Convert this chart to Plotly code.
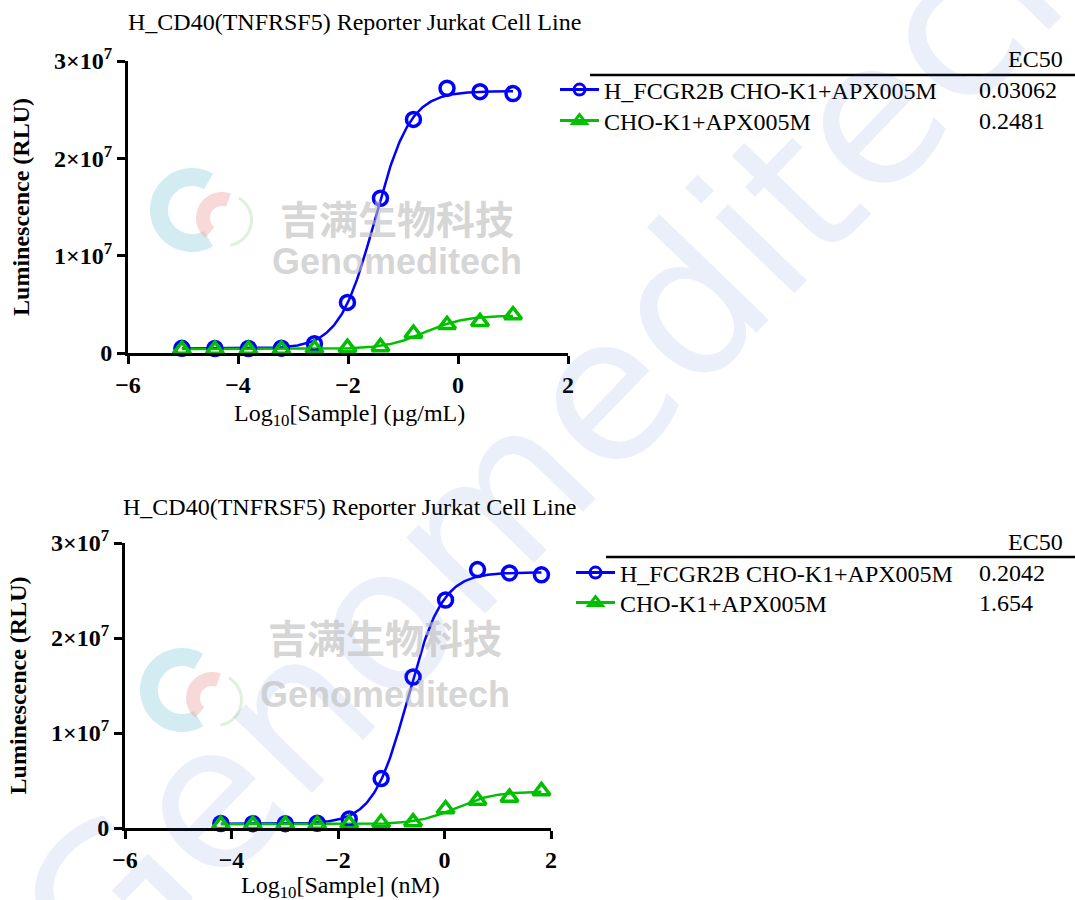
import numpy as np
import plotly.graph_objects as go

# ---------------- data ----------------
x_ugml = [-5.02, -4.42, -3.81, -3.21, -2.61, -2.01, -1.41, -0.81, -0.20, 0.40, 1.00]
x_nm = [-4.20, -3.60, -2.99, -2.39, -1.79, -1.19, -0.59, 0.02, 0.62, 1.22, 1.82]
y_fcgr2b = [0.48e6, 0.46e6, 0.46e6, 0.50e6, 0.96e6, 5.2e6, 15.9e6, 24.0e6, 27.2e6, 26.85e6, 26.65e6]
y_chok1 = [0.35e6, 0.35e6, 0.35e6, 0.36e6, 0.45e6, 0.55e6, 0.62e6, 2.0e6, 2.9e6, 3.2e6, 3.9e6]

series_names = ["H_FCGR2B CHO-K1+APX005M", "CHO-K1+APX005M"]
ec50_ugml = [0.03062, 0.2481]
ec50_nm = [0.2042, 1.654]
ec50_text_top = ["0.03062", "0.2481"]
ec50_text_bot = ["0.2042", "1.654"]
fit_bottom = [0.45e6, 0.40e6]
fit_top = [26.9e6, 3.85e6]
fit_hill = [1.35, 1.2]

x_ticks = [-6, -4, -2, 0, 2]
y_ticks = [0, 1e7, 2e7, 3e7]
y_ticktext = ["0", "1×10<sup>7</sup>", "2×10<sup>7</sup>", "3×10<sup>7</sup>"]

title_text = "H_CD40(TNFRSF5) Reporter Jurkat Cell Line"
xtitle_top = "Log<sub>10</sub>[Sample] (µg/mL)"
xtitle_bot = "Log<sub>10</sub>[Sample] (nM)"
ytitle = "Luminescence (RLU)"

colors = ["#0000ff", "#00c000"]
symbols = ["circle-open", "triangle-up-open"]
msize = [14, 15]

W, H = 1075, 900
SERIF = "Liberation Serif"


def px(x):
    return x / W


def py(y):
    return 1 - y / H


def four_pl(x, bottom, top, ec50, hill):
    return bottom + (top - bottom) / (1 + 10 ** ((np.log10(ec50) - x) * hill))


fig = go.Figure()

panels = [
    dict(xs=x_ugml, ec=ec50_ugml, xa="x", ya="y", legends=["legend", "legend2"]),
    dict(xs=x_nm, ec=ec50_nm, xa="x2", ya="y2", legends=["legend3", "legend4"]),
]
ys_all = [y_fcgr2b, y_chok1]

for p in panels:
    for i in range(2):
        xs = np.array(p["xs"])
        xf = np.linspace(xs.min(), xs.max(), 300)
        yf = four_pl(xf, fit_bottom[i], fit_top[i], p["ec"][i], fit_hill[i])
        fig.add_trace(go.Scatter(x=xf, y=yf, mode="lines", xaxis=p["xa"], yaxis=p["ya"],
                                 line=dict(color=colors[i], width=2.5), showlegend=False,
                                 hoverinfo="skip"))
    for i in range(2):
        fig.add_trace(go.Scatter(x=p["xs"], y=ys_all[i], mode="markers", xaxis=p["xa"], yaxis=p["ya"],
                                 marker=dict(symbol=symbols[i], size=msize[i], color=colors[i],
                                             line=dict(width=3.5, color=colors[i])),
                                 showlegend=False, cliponaxis=False))
    for i in range(2):
        fig.add_trace(go.Scatter(x=[None], y=[None], mode="lines+markers", xaxis=p["xa"], yaxis=p["ya"],
                                 name=series_names[i], legend=p["legends"][i],
                                 line=dict(color=colors[i], width=3),
                                 marker=dict(symbol=symbols[i], size=msize[i] - 3, color=colors[i],
                                             line=dict(width=3, color=colors[i]))))

axis_common = dict(showgrid=False, zeroline=False, showline=True, linecolor="black", linewidth=3,
                   ticks="outside", ticklen=8, tickwidth=3, tickcolor="black", automargin=False,
                   tickfont=dict(family=SERIF, size=24, weight="bold", color="black"))

leg_common = dict(xanchor="left", yanchor="middle", bgcolor="rgba(0,0,0,0)", borderwidth=0,
                  font=dict(family=SERIF, size=24, color="black"), itemwidth=39)

fig.update_layout(
    width=W, height=H, margin=dict(l=0, r=0, t=0, b=0, autoexpand=False),
    paper_bgcolor="white", plot_bgcolor="rgba(0,0,0,0)",
    xaxis=dict(domain=[px(128), px(568)], anchor="y", range=[-6, 2], tickvals=x_ticks,
               **axis_common),
    yaxis=dict(domain=[py(353), py(61)], anchor="x", range=[0, 3e7], tickvals=y_ticks, ticktext=y_ticktext,
               title=dict(text=ytitle, font=dict(family=SERIF, size=24, weight="bold", color="black"), standoff=18),
               **axis_common),
    xaxis2=dict(domain=[px(125), px(551)], anchor="y2", range=[-6, 2], tickvals=x_ticks,
                **axis_common),
    yaxis2=dict(domain=[py(828), py(543)], anchor="x2", range=[0, 3e7], tickvals=y_ticks, ticktext=y_ticktext,
                title=dict(text=ytitle, font=dict(family=SERIF, size=24, weight="bold", color="black"), standoff=18),
                **axis_common),
    legend=dict(x=px(555), y=py(90), **leg_common),
    legend2=dict(x=px(555), y=py(121), **leg_common),
    legend3=dict(x=px(571), y=py(573), **leg_common),
    legend4=dict(x=px(571), y=py(603), **leg_common),
)

ann = []
# watermark (large diagonal)
ann.append(dict(text="Genomeditech", x=px(565), y=py(430), xref="paper", yref="paper", showarrow=False,
                textangle=-46, font=dict(family="DejaVu Sans", size=200, color="rgba(60,100,200,0.10)")))
# titles
ann.append(dict(text=title_text, x=px(126), y=py(22), xref="paper", yref="paper", xanchor="left",
                yanchor="middle", showarrow=False, font=dict(family=SERIF, size=24, color="black")))
ann.append(dict(text=title_text, x=px(121), y=py(507), xref="paper", yref="paper", xanchor="left",
                yanchor="middle", showarrow=False, font=dict(family=SERIF, size=24, color="black")))
# x-axis titles
ann.append(dict(text=xtitle_top, x=px(349), y=py(415), xref="paper", yref="paper", xanchor="center",
                yanchor="middle", showarrow=False, font=dict(family=SERIF, size=24, color="black")))
ann.append(dict(text=xtitle_bot, x=px(340), y=py(887), xref="paper", yref="paper", xanchor="center",
                yanchor="middle", showarrow=False, font=dict(family=SERIF, size=24, color="black")))
# EC50 table
for hy, rows, texts in [(59, (90, 121), ec50_text_top), (542, (573, 603), ec50_text_bot)]:
    ann.append(dict(text="EC50", x=px(1065), y=py(hy), xref="paper", yref="paper", xanchor="right",
                    yanchor="middle", showarrow=False, font=dict(family=SERIF, size=24, color="black")))
    for ry, t in zip(rows, texts):
        ann.append(dict(text=t, x=px(977), y=py(ry), xref="paper", yref="paper", xanchor="left",
                        yanchor="middle", showarrow=False, font=dict(family=SERIF, size=24, color="black")))
# small watermarks
for cx, cy1, cy2 in [(397, 187, 239), (385, 666, 717)]:
    ann.append(dict(text="吉满生物科技", x=px(cx), y=py(cy1), xref="paper", yref="paper", showarrow=False,
                    font=dict(family="Noto Sans CJK SC", size=39, weight="bold", color="rgba(190,190,190,0.65)")))
    ann.append(dict(text="Genomeditech", x=px(cx), y=py(cy2), xref="paper", yref="paper", showarrow=False,
                    font=dict(family="Liberation Sans", size=36, weight="bold", color="rgba(190,190,190,0.65)")))
fig.update_layout(annotations=ann)


def path_from_pixels(pts):
    return "M " + " L ".join(f"{px(a):.5f},{py(b):.5f}" for a, b in pts) + " Z"


def ring_segment(cx, cy, r_out, r_in, a0, a1, n=60):
    t = np.radians(np.linspace(a0, a1, n))
    outer = [(cx + r_out * np.cos(a), cy - r_out * np.sin(a)) for a in t]
    inner = [(cx + r_in * np.cos(a), cy - r_in * np.sin(a)) for a in t[::-1]]
    return path_from_pixels(outer + inner)


shapes = [
    dict(type="line", xref="paper", yref="paper", x0=px(590), x1=1, y0=py(75), y1=py(75),
         line=dict(color="black", width=2.5)),
    dict(type="line", xref="paper", yref="paper", x0=px(606), x1=1, y0=py(557), y1=py(557),
         line=dict(color="black", width=2.5)),
]
# logos (faint)
for (lx, ly) in [(192, 210), (182, 690)]:
    shapes.append(dict(type="path", xref="paper", yref="paper", layer="below", line=dict(width=0),
                       fillcolor="rgba(175,220,232,0.55)",
                       path=ring_segment(lx, ly, 42, 24, 60, 300)))
    shapes.append(dict(type="path", xref="paper", yref="paper", layer="below", line=dict(width=0),
                       fillcolor="rgba(240,170,170,0.45)",
                       path=ring_segment(lx + 30, ly + 8, 26, 12, 70, 230)))
    shapes.append(dict(type="path", xref="paper", yref="paper", layer="below", line=dict(width=0),
                       fillcolor="rgba(185,225,180,0.45)",
                       path=ring_segment(lx + 34, ly + 10, 27, 24, -80, 60)))
fig.update_layout(shapes=shapes)

# remove the default page margin so the figure fills the 1075x900 window exactly
fig.write_html("out.html", config={"displayModeBar": False},
               post_script="document.body.style.margin='0';document.body.style.overflow='hidden';")
